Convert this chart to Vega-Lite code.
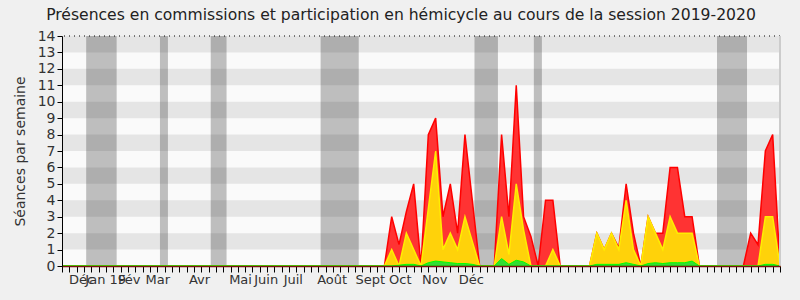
{
  "$schema": "https://vega.github.io/schema/vega-lite/v6.json",
  "width": 718,
  "height": 230,
  "autosize": {"type": "none"},
  "padding": {"left": 62, "top": 36, "right": 20, "bottom": 34},
  "background": "#f0f0f0",
  "config": {
    "view": {"fill": "#fafafa", "stroke": null},
    "font": "DejaVu Sans"
  },
  "title": {
    "text": "Présences en commissions et participation en hémicycle au cours de la session 2019-2020",
    "anchor": "middle",
    "frame": "group",
    "fontSize": 15.6,
    "fontWeight": "normal",
    "color": "#222222",
    "offset": 5,
    "dx": -20
  },
  "datasets": {
    "weeks": [
      {"w": 0, "red": 0, "yellow": 0, "green": 0},
      {"w": 1, "red": 0, "yellow": 0, "green": 0},
      {"w": 2, "red": 0, "yellow": 0, "green": 0},
      {"w": 3, "red": 0, "yellow": 0, "green": 0},
      {"w": 4, "red": 0, "yellow": 0, "green": 0},
      {"w": 5, "red": 0, "yellow": 0, "green": 0},
      {"w": 6, "red": 0, "yellow": 0, "green": 0},
      {"w": 7, "red": 0, "yellow": 0, "green": 0},
      {"w": 8, "red": 0, "yellow": 0, "green": 0},
      {"w": 9, "red": 0, "yellow": 0, "green": 0},
      {"w": 10, "red": 0, "yellow": 0, "green": 0},
      {"w": 11, "red": 0, "yellow": 0, "green": 0},
      {"w": 12, "red": 0, "yellow": 0, "green": 0},
      {"w": 13, "red": 0, "yellow": 0, "green": 0},
      {"w": 14, "red": 0, "yellow": 0, "green": 0},
      {"w": 15, "red": 0, "yellow": 0, "green": 0},
      {"w": 16, "red": 0, "yellow": 0, "green": 0},
      {"w": 17, "red": 0, "yellow": 0, "green": 0},
      {"w": 18, "red": 0, "yellow": 0, "green": 0},
      {"w": 19, "red": 0, "yellow": 0, "green": 0},
      {"w": 20, "red": 0, "yellow": 0, "green": 0},
      {"w": 21, "red": 0, "yellow": 0, "green": 0},
      {"w": 22, "red": 0, "yellow": 0, "green": 0},
      {"w": 23, "red": 0, "yellow": 0, "green": 0},
      {"w": 24, "red": 0, "yellow": 0, "green": 0},
      {"w": 25, "red": 0, "yellow": 0, "green": 0},
      {"w": 26, "red": 0, "yellow": 0, "green": 0},
      {"w": 27, "red": 0, "yellow": 0, "green": 0},
      {"w": 28, "red": 0, "yellow": 0, "green": 0},
      {"w": 29, "red": 0, "yellow": 0, "green": 0},
      {"w": 30, "red": 0, "yellow": 0, "green": 0},
      {"w": 31, "red": 0, "yellow": 0, "green": 0},
      {"w": 32, "red": 0, "yellow": 0, "green": 0},
      {"w": 33, "red": 0, "yellow": 0, "green": 0},
      {"w": 34, "red": 0, "yellow": 0, "green": 0},
      {"w": 35, "red": 0, "yellow": 0, "green": 0},
      {"w": 36, "red": 0, "yellow": 0, "green": 0},
      {"w": 37, "red": 0, "yellow": 0, "green": 0},
      {"w": 38, "red": 0, "yellow": 0, "green": 0},
      {"w": 39, "red": 0, "yellow": 0, "green": 0},
      {"w": 40, "red": 0, "yellow": 0, "green": 0},
      {"w": 41, "red": 0, "yellow": 0, "green": 0},
      {"w": 42, "red": 0, "yellow": 0, "green": 0},
      {"w": 43, "red": 0, "yellow": 0, "green": 0},
      {"w": 44, "red": 0, "yellow": 0, "green": 0},
      {"w": 45, "red": 3, "yellow": 1, "green": 0},
      {"w": 46, "red": 1.3, "yellow": 0, "green": 0.05},
      {"w": 47, "red": 3.3, "yellow": 2, "green": 0.1},
      {"w": 48, "red": 5, "yellow": 1, "green": 0.1},
      {"w": 49, "red": 0, "yellow": 0, "green": 0},
      {"w": 50, "red": 8, "yellow": 3.5, "green": 0.2},
      {"w": 51, "red": 9, "yellow": 7, "green": 0.3},
      {"w": 52, "red": 3, "yellow": 1, "green": 0.25},
      {"w": 53, "red": 5, "yellow": 2, "green": 0.2},
      {"w": 54, "red": 2, "yellow": 1, "green": 0.15},
      {"w": 55, "red": 8, "yellow": 3, "green": 0.15},
      {"w": 56, "red": 4, "yellow": 1.5, "green": 0.1},
      {"w": 57, "red": 0, "yellow": 0, "green": 0},
      {"w": 58, "red": 0, "yellow": 0, "green": 0},
      {"w": 59, "red": 0, "yellow": 0, "green": 0},
      {"w": 60, "red": 8, "yellow": 3, "green": 0.45},
      {"w": 61, "red": 3, "yellow": 0.7, "green": 0.1},
      {"w": 62, "red": 11, "yellow": 5, "green": 0.35},
      {"w": 63, "red": 3, "yellow": 2.2, "green": 0.25},
      {"w": 64, "red": 1.8, "yellow": 0, "green": 0},
      {"w": 65, "red": 0, "yellow": 0, "green": 0},
      {"w": 66, "red": 4, "yellow": 0, "green": 0},
      {"w": 67, "red": 4, "yellow": 1, "green": 0},
      {"w": 68, "red": 0, "yellow": 0, "green": 0},
      {"w": 69, "red": 0, "yellow": 0, "green": 0},
      {"w": 70, "red": 0, "yellow": 0, "green": 0},
      {"w": 71, "red": 0, "yellow": 0, "green": 0},
      {"w": 72, "red": 0, "yellow": 0, "green": 0},
      {"w": 73, "red": 2, "yellow": 2, "green": 0.1},
      {"w": 74, "red": 1, "yellow": 1, "green": 0.1},
      {"w": 75, "red": 2, "yellow": 2, "green": 0.1},
      {"w": 76, "red": 1.1, "yellow": 1, "green": 0.1},
      {"w": 77, "red": 5, "yellow": 4, "green": 0.2},
      {"w": 78, "red": 2, "yellow": 1, "green": 0.1},
      {"w": 79, "red": 0, "yellow": 0, "green": 0},
      {"w": 80, "red": 3, "yellow": 3, "green": 0.15},
      {"w": 81, "red": 2, "yellow": 2, "green": 0.2},
      {"w": 82, "red": 2, "yellow": 1, "green": 0.15},
      {"w": 83, "red": 6, "yellow": 3, "green": 0.2},
      {"w": 84, "red": 6, "yellow": 2, "green": 0.2},
      {"w": 85, "red": 3, "yellow": 2, "green": 0.2},
      {"w": 86, "red": 3, "yellow": 2, "green": 0.3},
      {"w": 87, "red": 0, "yellow": 0, "green": 0},
      {"w": 88, "red": 0, "yellow": 0, "green": 0},
      {"w": 89, "red": 0, "yellow": 0, "green": 0},
      {"w": 90, "red": 0, "yellow": 0, "green": 0},
      {"w": 91, "red": 0, "yellow": 0, "green": 0},
      {"w": 92, "red": 0, "yellow": 0, "green": 0},
      {"w": 93, "red": 0, "yellow": 0, "green": 0},
      {"w": 94, "red": 2, "yellow": 0, "green": 0},
      {"w": 95, "red": 1.3, "yellow": 0, "green": 0},
      {"w": 96, "red": 7, "yellow": 3, "green": 0.1},
      {"w": 97, "red": 8, "yellow": 3, "green": 0.1},
      {"w": 98, "red": 0, "yellow": 0, "green": 0}
    ],
    "stripes": [
      {"lo": 1, "hi": 2}, {"lo": 3, "hi": 4}, {"lo": 5, "hi": 6}, {"lo": 7, "hi": 8},
      {"lo": 9, "hi": 10}, {"lo": 11, "hi": 12}, {"lo": 13, "hi": 14}
    ],
    "vacances": [
      {"start": 3.3, "end": 7.46},
      {"start": 13.37, "end": 14.46},
      {"start": 20.3, "end": 22.46},
      {"start": 35.3, "end": 40.5},
      {"start": 56.3, "end": 59.5},
      {"start": 64.4, "end": 65.5},
      {"start": 89.4, "end": 93.5}
    ],
    "top": [{"y": 14}],
    "right": [{"x": 98}]
  },
  "resolve": {"axis": {"x": "independent", "y": "independent"}},
  "layer": [
    {
      "data": {"name": "stripes"},
      "mark": {"type": "rect", "color": "#e5e5e5"},
      "encoding": {
        "y": {"field": "lo", "type": "quantitative", "scale": {"domain": [0, 14], "nice": false}, "axis": null},
        "y2": {"field": "hi"}
      }
    },
    {
      "data": {"name": "vacances"},
      "mark": {"type": "rect", "color": "#000000", "opacity": 0.24},
      "encoding": {
        "x": {
          "field": "start", "type": "quantitative",
          "scale": {"domain": [0, 98], "nice": false, "zero": false},
          "axis": {
            "orient": "bottom",
            "values": [0,1,2,3,4,5,6,7,8,9,10,11,12,13,14,15,16,17,18,19,20,21,22,23,24,25,26,27,28,29,30,31,32,33,34,35,36,37,38,39,40,41,42,43,44,45,46,47,48,49,50,51,52,53,54,55,56,57,58,59,60,61,62,63,64,65,66,67,68,69,70,71,72,73,74,75,76,77,78,79,80,81,82,83,84,85,86,87,88,89,90,91,92,93,94,95,96,97,98],
            "labels": false,
            "grid": false,
            "title": null,
            "tickSize": 6,
            "tickColor": "#000000",
            "domainColor": "#7a1010",
            "domainWidth": 1.5,
            "zindex": 1
          }
        },
        "x2": {"field": "end"}
      }
    },
    {
      "data": {"name": "weeks"},
      "mark": {"type": "area", "color": "#ff3333", "stroke": "#ff0000", "strokeWidth": 1.5, "opacity": 1},
      "encoding": {
        "x": {
          "field": "w", "type": "quantitative",
          "scale": {"domain": [0, 98], "nice": false, "zero": false},
          "axis": {
            "orient": "bottom",
            "values": [2.6, 5.9, 9.1, 13.0, 18.7, 24.3, 27.8, 31.5, 36.8, 42.0, 46.1, 50.8, 55.8],
            "labelExpr": "datum.value < 3 ? 'Déc' : datum.value < 7 ? 'Jan 19' : datum.value < 10 ? 'Fév' : datum.value < 14 ? 'Mar' : datum.value < 20 ? 'Avr' : datum.value < 25 ? 'Mai' : datum.value < 29 ? 'Juin' : datum.value < 33 ? 'Juil' : datum.value < 40 ? 'Août' : datum.value < 44 ? 'Sept' : datum.value < 48 ? 'Oct' : datum.value < 53 ? 'Nov' : 'Déc'",
            "ticks": false,
            "domain": false,
            "grid": false,
            "title": null,
            "labelOverlap": false,
            "labelFlush": false,
            "labelBound": false,
            "labelFontSize": 13,
            "labelColor": "#333333",
            "labelPadding": 7
          }
        },
        "y": {
          "field": "red", "type": "quantitative",
          "scale": {"domain": [0, 14], "nice": false},
          "axis": {
            "orient": "left",
            "values": [0,1,2,3,4,5,6,7,8,9,10,11,12,13,14],
            "title": "Séances par semaine",
            "titleFontSize": 14,
            "titleFontWeight": "normal",
            "titleColor": "#333333",
            "titlePadding": 10,
            "labelFontSize": 14,
            "labelColor": "#333333",
            "labelPadding": 2,
            "tickSize": 5,
            "tickColor": "#000000",
            "domainColor": "#000000",
            "grid": false,
            "zindex": 1
          }
        }
      }
    },
    {
      "data": {"name": "weeks"},
      "mark": {"type": "area", "color": "#ffd20a", "stroke": "#ffee00", "strokeWidth": 1.5, "opacity": 1},
      "encoding": {
        "x": {"field": "w", "type": "quantitative", "scale": {"domain": [0, 98]}, "axis": null},
        "y": {"field": "yellow", "type": "quantitative", "axis": null}
      }
    },
    {
      "data": {"name": "weeks"},
      "mark": {"type": "area", "color": "#33dd33", "stroke": "#00ff00", "strokeWidth": 1, "opacity": 1},
      "encoding": {
        "x": {"field": "w", "type": "quantitative", "scale": {"domain": [0, 98]}, "axis": null},
        "y": {"field": "green", "type": "quantitative", "axis": null}
      }
    },
    {
      "data": {"name": "top"},
      "mark": {"type": "rule", "color": "#000000", "strokeDash": [1, 4], "strokeWidth": 1},
      "encoding": {
        "y": {"field": "y", "type": "quantitative", "axis": null}
      }
    },
    {
      "data": {"name": "right"},
      "mark": {"type": "rule", "color": "#cccccc", "strokeWidth": 2},
      "encoding": {
        "x": {"field": "x", "type": "quantitative", "scale": {"domain": [0, 98]}, "axis": null}
      }
    }
  ]
}
